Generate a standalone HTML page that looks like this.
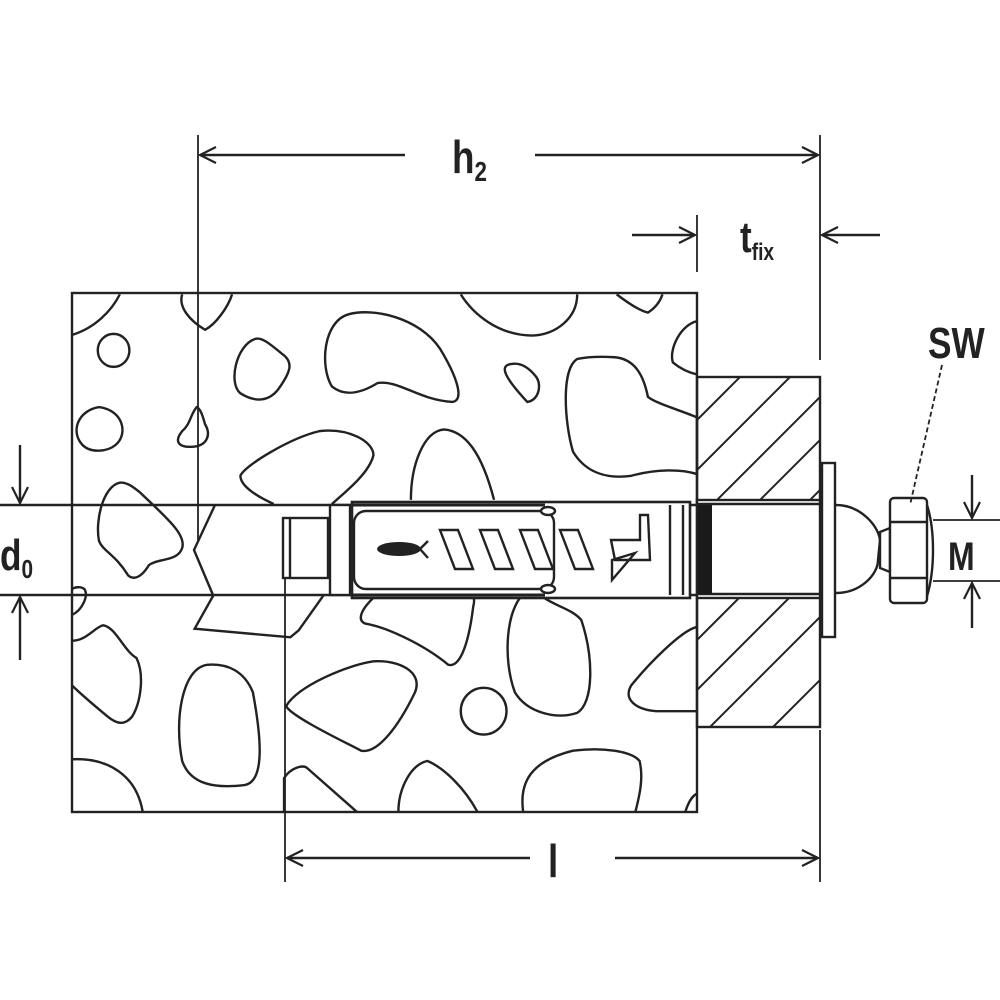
<!DOCTYPE html>
<html><head><style>html,body{margin:0;padding:0;background:#fff}svg{display:block}text{font-family:"Liberation Sans",sans-serif;fill:#222}</style></head>
<body>
<svg width="1000" height="1000" viewBox="0 0 1000 1000" xmlns="http://www.w3.org/2000/svg">
<defs>
<marker id="ar" markerWidth="20" markerHeight="20" refX="18" refY="10" orient="auto" markerUnits="userSpaceOnUse">
<path d="M2,2 L18,10 L2,18" fill="none" stroke="#222" stroke-width="2.2"/></marker>
<clipPath id="fx"><rect x="697" y="377" width="123" height="350"/></clipPath>
</defs>
<g stroke="#222" fill="none" stroke-width="2.4">
<g transform="translate(57.45,279.94) scale(0.4158,0.3436)">
<g>
<path vector-effect="non-scaling-stroke" d="M35,160 C90,140 130,90 150,42"/>
<path vector-effect="non-scaling-stroke" d="M300,42 C290,80 320,120 355,145 C380,130 410,80 420,42"/>
<ellipse vector-effect="non-scaling-stroke" cx="135" cy="205" rx="38" ry="48"/>
<path vector-effect="non-scaling-stroke" d="M475,172 C430,190 410,300 440,330 C480,360 510,350 530,320 C560,270 570,240 540,215 C510,185 490,165 475,172 Z"/>
<path vector-effect="non-scaling-stroke" d="M700,100 C640,120 630,250 660,310 C690,340 730,330 770,300 C820,290 870,350 950,355 C980,350 960,280 920,200 C870,110 760,80 700,100 Z"/>
<path vector-effect="non-scaling-stroke" d="M970,42 C1000,100 1060,160 1140,162 C1200,160 1250,110 1250,42"/>
<path vector-effect="non-scaling-stroke" d="M1345,42 C1370,65 1400,90 1420,95 C1440,80 1450,60 1455,42"/>
<path vector-effect="non-scaling-stroke" d="M1538,120 C1500,130 1470,200 1480,240 C1500,260 1520,270 1538,275"/>
<path vector-effect="non-scaling-stroke" d="M1090,245 C1060,250 1080,290 1130,355 C1160,350 1165,300 1150,280 C1130,250 1110,240 1090,245 Z"/>
<path vector-effect="non-scaling-stroke" d="M1250,230 C1210,260 1220,420 1240,500 C1270,560 1320,580 1380,570 C1440,550 1500,550 1538,565 L1538,400 C1500,380 1440,360 1420,340 C1410,280 1390,230 1340,225 C1300,222 1270,225 1250,230 Z"/>
<path vector-effect="non-scaling-stroke" d="M100,370 C50,380 30,440 60,480 C80,505 120,500 140,480 C170,450 160,380 100,370 Z"/>
<path vector-effect="non-scaling-stroke" d="M335,370 C320,390 320,420 300,440 C280,470 290,490 330,485 C360,480 370,450 355,420 C350,400 345,375 335,370 Z"/>
<path vector-effect="non-scaling-stroke" d="M520,652 C480,630 440,600 440,570 C450,540 560,460 630,440 C700,430 760,470 760,510 C750,560 700,610 660,652"/>
<path vector-effect="non-scaling-stroke" d="M850,640 C850,540 880,440 930,435 C980,440 1020,500 1050,640"/>
<path vector-effect="non-scaling-stroke" d="M150,590 C110,600 90,700 100,760 C110,790 140,800 170,860 C190,880 210,850 220,830 C240,810 290,820 300,780 C310,740 260,690 200,620 C180,600 165,588 150,590 Z"/>
<path vector-effect="non-scaling-stroke" d="M35,975 C60,960 75,920 65,900 C55,890 40,895 35,900"/>
<path vector-effect="non-scaling-stroke" d="M375,918 L330,1015 L560,1040 L580,1020 L640,918"/>
<path vector-effect="non-scaling-stroke" d="M35,1050 C70,1050 90,1010 110,1005 C140,1010 160,1080 190,1100 C210,1150 200,1230 180,1270 C160,1300 140,1290 120,1270 C90,1240 60,1210 35,1180"/>
<path vector-effect="non-scaling-stroke" d="M360,1120 C300,1130 280,1280 300,1400 C320,1470 380,1480 450,1470 C500,1460 490,1330 470,1200 C450,1140 410,1115 360,1120 Z"/>
<path vector-effect="non-scaling-stroke" d="M35,1395 C120,1390 190,1440 205,1548"/>
<path vector-effect="non-scaling-stroke" d="M760,925 C730,960 720,990 740,1000 C790,1010 880,1060 940,1120 C970,1130 990,1050 1000,950 C1005,930 1000,920 1000,912"/>
<path vector-effect="non-scaling-stroke" d="M760,1110 C700,1120 580,1180 550,1240 C560,1270 700,1350 730,1370 C770,1380 820,1300 860,1200 C880,1140 820,1105 760,1110 Z"/>
<path vector-effect="non-scaling-stroke" d="M1120,915 C1080,960 1070,1100 1100,1200 C1130,1260 1200,1280 1250,1260 C1290,1230 1290,1100 1260,990 C1240,960 1200,950 1170,925"/>
<ellipse vector-effect="non-scaling-stroke" cx="1025" cy="1255" rx="55" ry="68"/>
<path vector-effect="non-scaling-stroke" d="M1538,1010 C1500,1020 1420,1120 1380,1180 C1360,1220 1390,1250 1440,1255 L1538,1255"/>
<path vector-effect="non-scaling-stroke" d="M545,1548 L545,1450 C560,1420 590,1410 600,1420 L720,1548"/>
<path vector-effect="non-scaling-stroke" d="M820,1548 C820,1480 850,1410 890,1400 C930,1420 980,1480 1010,1548"/>
<path vector-effect="non-scaling-stroke" d="M1120,1548 C1110,1460 1140,1400 1240,1370 C1310,1360 1380,1370 1400,1400 C1410,1450 1400,1500 1390,1548"/>
<path vector-effect="non-scaling-stroke" d="M1510,1548 C1520,1510 1530,1500 1538,1495"/>
</g></g>
<rect x="72" y="293" width="625" height="519"/>
<rect x="212" y="506" width="485" height="88" fill="#fff" stroke="none"/>
<polygon points="215,506 194,550 213,593 215,593 215,506" fill="#fff" stroke="none"/>
<line x1="0" y1="505" x2="697" y2="505"/>
<line x1="0" y1="595" x2="697" y2="595"/>
<path d="M215,505 L194,550 L213,595"/>
<rect x="697" y="377" width="123" height="350"/>
<g clip-path="url(#fx)" stroke-width="2">
<path d="M697,420 L740,377 M697,470 L790,377 M697,520 L840,377 M740,520 L880,380 M790,520 L880,430"/>
<path d="M697,640 L740,597 M697,690 L790,597 M697,740 L840,597 M760,740 L880,620 M810,740 L880,670"/>
</g>
<rect x="697" y="500" width="123" height="98" fill="#fff"/>
<line x1="697" y1="504" x2="820" y2="504"/>
<line x1="697" y1="594" x2="820" y2="594"/>
<rect x="698" y="505" width="14" height="89" fill="#1a1a1a" stroke="none"/>
<rect x="822" y="463" width="13" height="174" fill="#fff"/>
<path d="M836,505 C860,505 878,525 880,540 L878,560 C878,575 860,593 836,593"/>
<path d="M880,532 L890,528 L890,572 L880,568 Z" fill="#fff"/>
<rect x="890" y="498" width="37" height="105" rx="4" fill="#fff"/>
<line x1="890" y1="522" x2="927" y2="522"/><line x1="890" y1="578" x2="927" y2="578"/>
<path d="M927,505 C935,530 935,570 927,596"/>
<rect x="283" y="518" width="45" height="60" fill="#fff"/>
<line x1="290" y1="518" x2="290" y2="578"/>
<rect x="330" y="505" width="20" height="90" fill="#fff"/>
<rect x="352" y="502" width="338" height="96" fill="#fff" stroke-width="2.6"/>
<path d="M352,505 L545,505 M352,595 L545,595" stroke-width="3"/>
<rect x="354" y="511" width="200" height="78" rx="12" fill="#fff"/>
<ellipse cx="548" cy="511" rx="7" ry="4" fill="#fff"/><ellipse cx="548" cy="589" rx="7" ry="4" fill="#fff"/>
<ellipse cx="399" cy="549" rx="22" ry="7" fill="#222" stroke="none"/>
<path d="M420,549 L428,541 M420,549 L428,558"/>
<path d="M440,530 L458,530 L473,569 L455,569 Z M480,530 L498,530 L513,569 L495,569 Z M520,530 L538,530 L553,569 L535,569 Z M560,530 L578,530 L593,569 L575,569 Z"/>
<path d="M611,540 L640,540 L640,515 L648,515 L650,560 L625,560 L615,560 Z"/>
<path d="M612,560 L635,553 L612,580 Z"/>
<line x1="670" y1="505" x2="670" y2="595"/><line x1="683" y1="505" x2="683" y2="595"/>
<g stroke-width="1.8">
<line x1="198" y1="135" x2="198" y2="540"/>
<line x1="820" y1="135" x2="820" y2="360"/>
<line x1="697" y1="215" x2="697" y2="272"/>
<line x1="285" y1="578" x2="285" y2="882"/>
<line x1="820" y1="730" x2="820" y2="882"/>
<line x1="933" y1="520" x2="1000" y2="520"/>
<line x1="933" y1="581" x2="1000" y2="581"/>
</g>
<line x1="405" y1="155" x2="200" y2="155" marker-end="url(#ar)"/>
<line x1="535" y1="155" x2="818" y2="155" marker-end="url(#ar)"/>
<line x1="632" y1="235" x2="695" y2="235" marker-end="url(#ar)"/>
<line x1="880" y1="235" x2="822" y2="235" marker-end="url(#ar)"/>
<line x1="530" y1="858" x2="287" y2="858" marker-end="url(#ar)"/>
<line x1="615" y1="858" x2="818" y2="858" marker-end="url(#ar)"/>
<line x1="20" y1="445" x2="20" y2="503" marker-end="url(#ar)"/>
<line x1="20" y1="660" x2="20" y2="597" marker-end="url(#ar)"/>
<line x1="972" y1="475" x2="972" y2="518" marker-end="url(#ar)"/>
<line x1="972" y1="628" x2="972" y2="583" marker-end="url(#ar)"/>
<line x1="942" y1="365" x2="910" y2="505" stroke-dasharray="5,3" stroke-width="1.8"/>
</g>
<g font-weight="bold">
<text x="452" y="173" font-size="46" transform="translate(452,0) scale(0.8,1) translate(-452,0)">h<tspan font-size="28" dy="8">2</tspan></text>
<text x="740" y="252" font-size="44" transform="translate(740,0) scale(0.8,1) translate(-740,0)">t<tspan font-size="24" dy="8">fix</tspan></text>
<text x="548" y="877" font-size="46" transform="translate(548,0) scale(0.8,1) translate(-548,0)">l</text>
<text x="0" y="570" font-size="44" transform="scale(0.8,1)">d<tspan font-size="26" dy="8">0</tspan></text>
<text x="948" y="570" font-size="40" transform="translate(948,0) scale(0.8,1) translate(-948,0)">M</text>
<text x="928" y="358" font-size="44" transform="translate(928,0) scale(0.8,1) translate(-928,0)">SW</text>
</g>
</svg>
</body></html>
